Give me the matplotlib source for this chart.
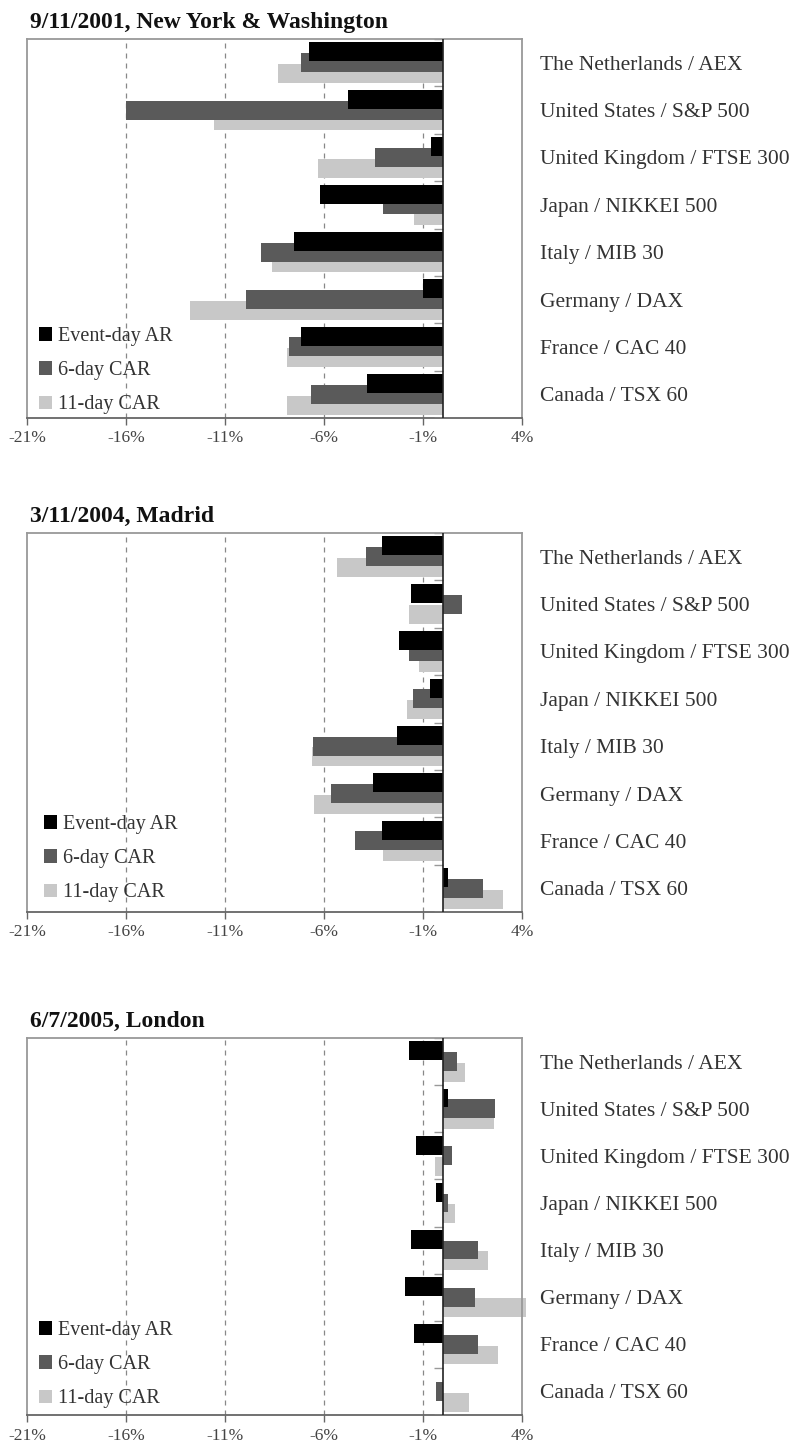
import numpy as np
import matplotlib
matplotlib.use("Agg")
import matplotlib.pyplot as plt

plt.rcParams['font.family'] = ['Liberation Serif', 'DejaVu Serif']

markets = ["The Netherlands / AEX", "United States / S&P 500", "United Kingdom / FTSE 300",
           "Japan / NIKKEI 500", "Italy / MIB 30", "Germany / DAX",
           "France / CAC 40", "Canada / TSX 60"]
series_names = ["Event-day AR", "6-day CAR", "11-day CAR"]
titles = ["9/11/2001, New York & Washington", "3/11/2004, Madrid", "6/7/2005, London"]

# abnormal returns in %, same order as markets
ny_ar = [-6.75, -4.8, -0.6, -6.2, -7.5, -1.0, -7.15, -3.85]
ny_car6 = [-7.15, -16.0, -3.4, -3.0, -9.2, -9.95, -7.75, -6.65]
ny_car11 = [-8.3, -11.55, -6.3, -1.45, -8.65, -12.75, -7.85, -7.85]

madrid_ar = [-3.05, -1.6, -2.2, -0.65, -2.3, -3.55, -3.05, 0.25]
madrid_car6 = [-3.9, 0.95, -1.7, -1.5, -6.55, -5.65, -4.45, 2.05]
madrid_car11 = [-5.35, -1.7, -1.2, -1.8, -6.6, -6.5, -3.0, 3.05]

london_ar = [-1.7, 0.25, -1.35, -0.35, -1.6, -1.9, -1.45, 0.0]
london_car6 = [0.7, 2.65, 0.45, 0.25, 1.8, 1.65, 1.8, -0.35]
london_car11 = [1.1, 2.6, -0.4, 0.6, 2.3, 4.2, 2.8, 1.3]

xticks = [-21, -16, -11, -6, -1, 4]

panels = [(ny_ar, ny_car6, ny_car11),
          (madrid_ar, madrid_car6, madrid_car11),
          (london_ar, london_car6, london_car11)]
colors = ["#000000", "#5a5a5a", "#c8c8c8"]

W, H = 798, 1452
fig = plt.figure(figsize=(W / 100, H / 100), dpi=100)

# axes boxes in pixels: (top, bottom)
boxes = [(39, 418), (533, 912), (1038, 1415)]
legend_anchor = [(-0.008, -0.033), (0.002, -0.017), (-0.008, -0.025)]
left, right = 27, 522

y = np.arange(len(markets))
off = 0.227
for k, (vals, (top, bot)) in enumerate(zip(panels, boxes)):
    ax = fig.add_axes([left / W, 1 - bot / H, (right - left) / W, (bot - top) / H])
    handles = []
    for j, v in enumerate(vals):
        b = ax.barh(y + (j - 1) * off, v, height=0.40, color=colors[j],
                    zorder=4 - j, clip_on=False, label=series_names[j])
        handles.append(b)
    ax.set_xlim(-21, 4)
    ax.set_ylim(len(markets) - 0.5, -0.5)

    ax.axvline(0, color="#222222", lw=1.2, zorder=6)
    for xv in xticks[1:-1]:
        ax.axvline(xv, color="#888888", lw=0.9, ls=(0, (4, 4)), zorder=1)
    ax.hlines(np.arange(len(markets) + 1) - 0.5, -0.45, 0, color="#999999", lw=1, zorder=5)

    ax.yaxis.tick_right()
    ax.set_yticks(y)
    ax.set_yticklabels(markets, fontsize=15.5, color="#333333")
    ax.tick_params(axis="y", length=0, pad=13)

    ax.set_xticks(xticks)
    ax.set_xticklabels([f"{t}%" for t in xticks], fontsize=12.5, color="#444444")
    ax.tick_params(axis="x", direction="out", length=5, width=1, color="#666666", pad=4)

    for s in ["top", "left", "right"]:
        ax.spines[s].set_color("#999999")
        ax.spines[s].set_linewidth(1.3)
    ax.spines["bottom"].set_color("#666666")
    ax.spines["bottom"].set_linewidth(1.3)

    ax.set_title(titles[k], loc="left", fontsize=17, fontweight="bold", pad=8,
                 color="#111111", x=0.006)

    ax.legend(handles=handles, loc="lower left", bbox_to_anchor=legend_anchor[k],
              frameon=False, fontsize=14.5, handlelength=0.65, handleheight=0.65,
              handletextpad=0.3, labelspacing=0.75, borderaxespad=0.4, labelcolor="#333333")

fig.savefig("out.png", dpi=100)
